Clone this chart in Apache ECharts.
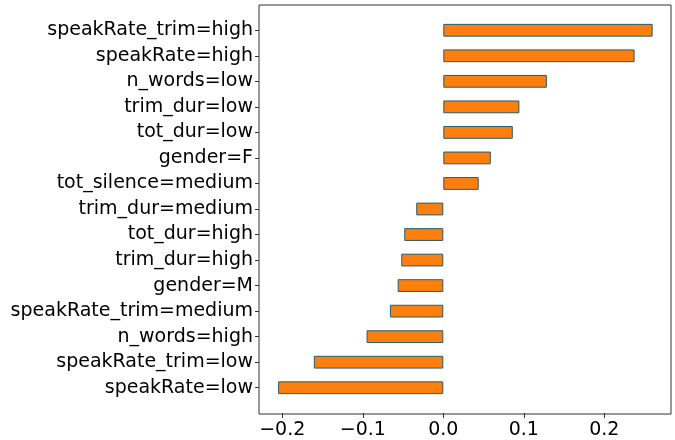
<!DOCTYPE html>
<html><head><meta charset="utf-8">
<script src="https://cdn.jsdelivr.net/npm/echarts@6/dist/echarts.min.js"></script>
<style>html,body{margin:0;padding:0;background:#fff}#c{width:675px;height:440px}</style>
</head><body><div id="c"></div>
<script>
const categories = ["speakRate_trim=high","speakRate=high","n_words=low","trim_dur=low","tot_dur=low","gender=F","tot_silence=medium","trim_dur=medium","tot_dur=high","trim_dur=high","gender=M","speakRate_trim=medium","n_words=high","speakRate_trim=low","speakRate=low"];
const values = [0.260,0.2376,0.1286,0.0945,0.0863,0.059,0.044,-0.0336,-0.0485,-0.0522,-0.0567,-0.0663,-0.0953,-0.1608,-0.2052];
const xTicks = [-0.2,-0.1,0.0,0.1,0.2];
const xMin = -0.2289, xMax = 0.2828;

const chart = echarts.init(document.getElementById('c'), null, {renderer:'canvas'});
const font = 'DejaVu Sans';
const pad = 12.5;
chart.setOption({
  animation:false,
  grid:[
    {left:259, right:4, top:5, bottom:26, show:true, borderColor:'#333', borderWidth:1, backgroundColor:'transparent'},
    {left:259, right:4, top:5+pad, bottom:26+pad}
  ],
  xAxis:[
    {gridIndex:0, type:'value', show:false, min:xMin, max:xMax},
    {gridIndex:1, type:'value', min:xMin, max:xMax, offset:pad,
     axisLine:{show:false, onZero:false}, splitLine:{show:false},
     axisTick:{show:true, length:5, lineStyle:{color:'#333'}, customValues:xTicks},
     axisLabel:{customValues:xTicks, fontFamily:font, fontSize:19, color:'#000', margin:8,
       formatter:v=>(v<0?'\u2212':'')+Math.abs(v).toFixed(1)}}
  ],
  yAxis:[
    {gridIndex:0, type:'value', show:false},
    {gridIndex:1, type:'category', data:categories, inverse:true,
     axisLine:{show:false, onZero:false}, splitLine:{show:false},
     axisTick:{show:true, alignWithLabel:true, length:4, lineStyle:{color:'#333'}},
     axisLabel:{fontFamily:font, fontSize:19, color:'#000', margin:6}}
  ],
  series:[{
    type:'bar', xAxisIndex:1, yAxisIndex:1, data:values, barWidth:'50%',
    itemStyle:{color:'#ff7f0e', borderColor:'#235c72', borderWidth:1}
  }]
});
</script></body></html>
